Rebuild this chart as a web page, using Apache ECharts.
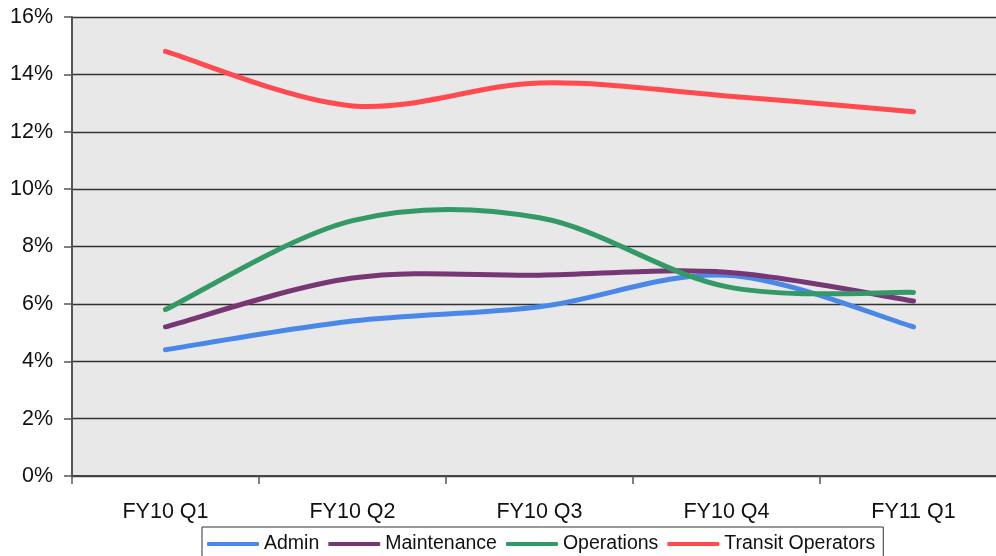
<!DOCTYPE html>
<html>
<head>
<meta charset="utf-8">
<script src="https://cdn.jsdelivr.net/npm/echarts@6/dist/echarts.min.js"></script>
<style>
  html, body { margin: 0; padding: 0; background: #fff; overflow: hidden; }
  /* the original chart is cut off on the right, so the canvas runs past the window */
  #chart { width: 1012px; height: 556px; }
</style>
</head>
<body>
<div id="chart"></div>
<script>
// quarters on the x axis
const quarters = ['FY10 Q1', 'FY10 Q2', 'FY10 Q3', 'FY10 Q4', 'FY11 Q1']

// percentages per group
const admin = [4.4, 5.4, 5.9, 7.0, 5.2]
const maintenance = [5.2, 6.9, 7.0, 7.1, 6.1]
const operations = [5.8, 8.9, 9.0, 6.6, 6.4]
const transitOperators = [14.8, 12.9, 13.7, 13.25, 12.7]

const font = 'Liberation Sans, Arial, sans-serif'

// excel-like smoothed line (catmull-rom), points come from the axes via api.coord
const makeLine = (name, values, color) => ({
  name,
  type: 'custom',
  data: values.map((v, i) => [i, v]),
  encode: { x: 0, y: 1 },
  itemStyle: { color },
  clip: false,
  renderItem: (params, api) => {
    if (params.dataIndex !== 0) return
    const pts = values.map((v, i) => api.coord([i, v]))
    let d = 'M' + pts[0][0] + ' ' + pts[0][1]
    for (let i = 0; i < pts.length - 1; i++) {
      const p0 = pts[i - 1] || pts[i]
      const p1 = pts[i]
      const p2 = pts[i + 1]
      const p3 = pts[i + 2] || p2
      const c1x = p1[0] + (p2[0] - p0[0]) / 6
      const c1y = p1[1] + (p2[1] - p0[1]) / 6
      const c2x = p2[0] - (p3[0] - p1[0]) / 6
      const c2y = p2[1] - (p3[1] - p1[1]) / 6
      d += ' C' + c1x + ' ' + c1y + ' ' + c2x + ' ' + c2y + ' ' + p2[0] + ' ' + p2[1]
    }
    return {
      type: 'path',
      shape: { pathData: d, layout: 'center' },
      style: { fill: null, stroke: color, lineWidth: 5, lineCap: 'round', lineJoin: 'round' },
    }
  },
})

const chart = echarts.init(document.getElementById('chart'))
chart.setOption({
  animation: false,
  grid: {
    left: 72,
    top: 17,
    right: 5,
    bottom: 80,
    show: true,
    backgroundColor: '#e8e8e8',
    borderWidth: 0,
  },
  legend: {
    left: 202,
    top: 527,
    padding: [7, 8, 10, 5],
    itemGap: 9,
    itemWidth: 52,
    itemHeight: 4,
    icon: 'roundRect',
    borderColor: '#333',
    borderWidth: 1,
    textStyle: { fontFamily: font, fontSize: 19.5, color: '#111' },
    data: ['Admin', 'Maintenance', 'Operations', 'Transit Operators'],
  },
  xAxis: {
    type: 'category',
    data: quarters,
    boundaryGap: true,
    axisLine: { lineStyle: { color: '#444', width: 2 } },
    axisTick: { show: true, length: 8, lineStyle: { color: '#555', width: 1.5 } },
    axisLabel: { fontFamily: font, fontSize: 21.5, color: '#111', margin: 25 },
    splitLine: { show: false },
  },
  yAxis: {
    type: 'value',
    min: 0,
    max: 16,
    interval: 2,
    axisLine: { show: true, lineStyle: { color: '#555', width: 2 } },
    axisTick: { show: true, length: 8, lineStyle: { color: '#555', width: 1.5 } },
    axisLabel: { fontFamily: font, fontSize: 21.5, color: '#111', margin: 19, formatter: '{value}%' },
    splitLine: { show: true, lineStyle: { color: '#333', width: 1.3 } },
  },
  series: [
    makeLine('Admin', admin, '#4a88e8'),
    makeLine('Maintenance', maintenance, '#773774'),
    makeLine('Operations', operations, '#339966'),
    makeLine('Transit Operators', transitOperators, '#ff4b4f'),
  ],
})
</script>
</body>
</html>
